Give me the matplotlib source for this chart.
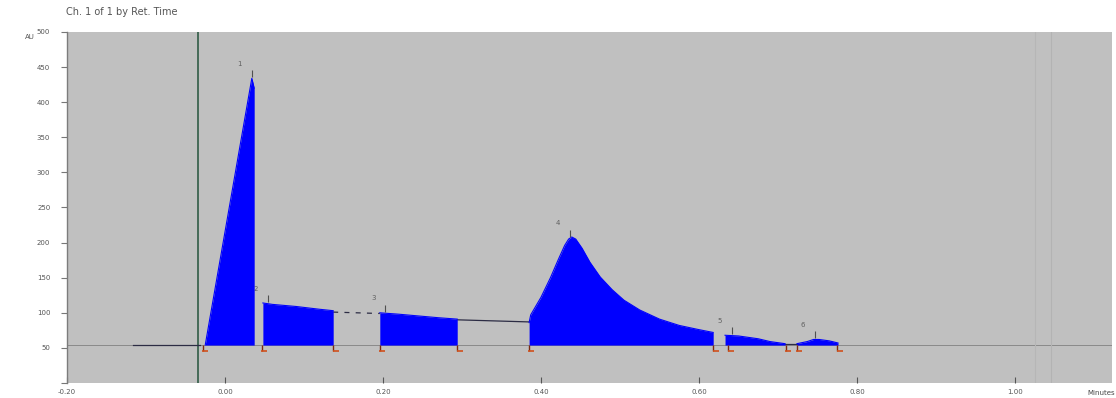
import numpy as np
import matplotlib
matplotlib.use("Agg")
import matplotlib.pyplot as plt

# Detector trace, split into integrated peaks and the unintegrated pieces between them
# (time in minutes, signal in AU)
baseline = 54

p1_t = [-0.025, 0.034, 0.037]
p1_v = [54, 434, 420]
p2_t = [0.048, 0.060, 0.090, 0.120, 0.137]
p2_v = [114, 112, 109, 105, 103]
p3_t = [0.196, 0.220, 0.250, 0.270, 0.294]
p3_v = [100, 98, 95, 93, 91]
p4_t = [0.385, 0.387, 0.400, 0.412, 0.422, 0.430, 0.435, 0.439, 0.444, 0.452,
        0.462, 0.475, 0.490, 0.505, 0.525, 0.550, 0.575, 0.600, 0.618]
p4_v = [86, 97, 122, 150, 176, 196, 205, 208, 205, 192,
        172, 151, 133, 118, 104, 91, 82, 76, 72]
p5_t = [0.633, 0.650, 0.675, 0.690, 0.709]
p5_v = [68, 67, 63, 59, 56]
p6_t = [0.724, 0.737, 0.745, 0.752, 0.765, 0.776]
p6_v = [56, 59, 62, 62, 60, 57]

pre_t = [-0.117, -0.032]
pre_v = [54, 54]
gap2_t = [0.137, 0.196]
gap2_v = [101, 99]
gap3_t = [0.294, 0.385]
gap3_v = [90, 87]
gap5_t = [0.709, 0.724]
gap5_v = [56, 56]

# Peak numbers, retention times and integration start/stop events
peak_ids = ["1", "2", "3", "4", "5", "6"]
peak_rt = [0.034, 0.054, 0.203, 0.437, 0.642, 0.747]
events = [-0.028, 0.047, 0.137, 0.196, 0.294, 0.385, 0.618, 0.637, 0.710, 0.724, 0.775]

x_ticks = [-0.2, 0.0, 0.2, 0.4, 0.6, 0.8, 1.0]
y_ticks = [0, 50, 100, 150, 200, 250, 300, 350, 400, 450, 500]
inject_time = -0.034

peaks = [(p1_t, p1_v), (p2_t, p2_v), (p3_t, p3_v),
         (p4_t, p4_v), (p5_t, p5_v), (p6_t, p6_v)]
gaps = [(pre_t, pre_v, "-"), (gap2_t, gap2_v, (0, (4, 5))),
        (gap3_t, gap3_v, "-"), (gap5_t, gap5_v, "-")]

fig = plt.figure(figsize=(11.16, 3.98), dpi=100)
ax = fig.add_axes([0.0600, 0.0377, 0.9364, 0.8819])
ax.set_facecolor("#c0c0c0")

ax.set_xlim(-0.2, 1.1228)
ax.set_ylim(0, 500)

# baseline and reference lines
ax.axhline(baseline, color="#8a8a8a", lw=0.7, zorder=1)
ax.axvline(inject_time, color="#3c6450", lw=1.3, zorder=2)
ax.axvline(1.025, color="#b6b6b6", lw=0.8, zorder=1)
ax.axvline(1.046, color="#b3b3b3", lw=0.8, zorder=1)

for t, v, ls in gaps:
    ax.plot(t, v, color="#2c2c44", lw=0.9, ls=ls, zorder=3)

for t, v in peaks:
    ax.fill_between(t, baseline, v, color="#0000ff", lw=0, zorder=4)
    ax.plot(t, v, color="#0000ff", lw=0.8, zorder=4)

# integration event marks under the baseline
ax.vlines(events, baseline - 9, baseline, color="#7a2a10", lw=1.0, zorder=5)
ax.plot(np.array(events) + 0.003, [baseline - 9] * len(events), ls="none",
        marker="_", ms=4, mew=1.2, color="#d0501c", zorder=5)

# apex ticks and peak numbers
for pid, rt, (t, v) in zip(peak_ids, peak_rt, peaks):
    top = np.interp(rt, t, v)
    ax.vlines(rt, top + 2, top + 12, color="#505050", lw=0.8, zorder=5)
    ax.annotate(pid, (rt, top + 14), xytext=(-12, 2), textcoords="offset pixels",
                fontsize=5, color="#606060", ha="center", va="bottom")

ax.set_xticks(x_ticks)
ax.set_xticklabels(["%.2f" % x for x in x_ticks])
ax.set_yticks(y_ticks)
ax.set_yticklabels([""] + [str(y) for y in y_ticks[1:]])
ax.tick_params(axis="y", direction="out", length=4, width=0.8, pad=8,
               labelsize=5, labelcolor="#555555", color="#777777")
ax.tick_params(axis="x", direction="in", length=4, width=0.8, pad=4,
               labelsize=5, labelcolor="#555555", color="#555555")

for side in ["top", "right", "bottom"]:
    ax.spines[side].set_visible(False)
ax.spines["left"].set_color("#7c7c7c")
ax.spines["left"].set_linewidth(1.0)

fig.text(30 / 1116, 1 - 37 / 398, "AU", fontsize=5, color="#555555",
         ha="center", va="center")
fig.text(1115 / 1116, 1 - 393 / 398, "Minutes", fontsize=5, color="#444444",
         ha="right", va="center")
fig.text(66 / 1116, 1 - 12 / 398, "Ch. 1 of 1 by Ret. Time", fontsize=7,
         color="#555555", ha="left", va="center")

fig.savefig("out.png", dpi=100, facecolor="white")
